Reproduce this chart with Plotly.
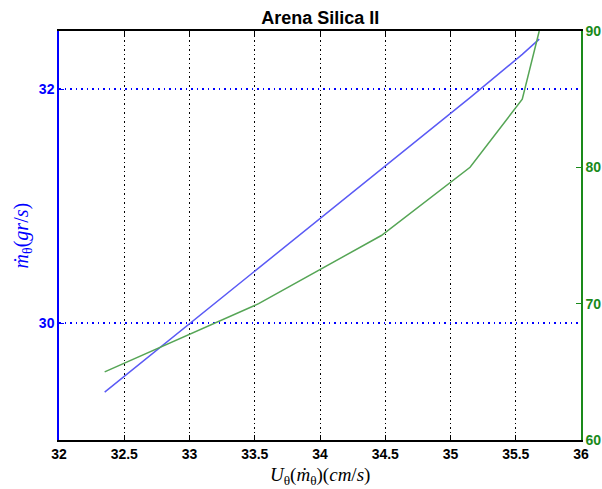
import plotly.graph_objects as go

# Data
x_vals = [32.35, 33.53, 34.47, 35.15, 35.55, 35.68]
mdot = [29.41, 30.47, 31.32, 31.93, 32.30, 32.43]      # left axis (blue)
second = [65.0, 70.0, 75.0, 80.0, 85.0, 90.0]           # right axis (green)

x_ticks = [32, 32.5, 33, 33.5, 34, 34.5, 35, 35.5, 36]
x_tick_text = ["32", "32.5", "33", "33.5", "34", "34.5", "35", "35.5", "36"]
y_ticks = [30, 32]
y2_ticks = [60, 70, 80, 90]

BLUE = "#0000ff"
GREEN = "#1a8a1a"
LINE_BLUE = "#5a5af5"
LINE_GREEN = "#55a555"
SANS = "Liberation Sans, Arial, sans-serif"
SERIF = "Liberation Serif, DejaVu Serif, serif"

fig = go.Figure()
fig.add_trace(go.Scatter(x=x_vals, y=mdot, mode="lines",
                         line=dict(color=LINE_BLUE, width=1.5), yaxis="y", showlegend=False))
fig.add_trace(go.Scatter(x=x_vals, y=second, mode="lines",
                         line=dict(color=LINE_GREEN, width=1.5), yaxis="y2", showlegend=False))

fig.update_layout(
    width=602, height=489,
    margin=dict(l=59, r=21, t=31, b=49, autoexpand=False),
    paper_bgcolor="white", plot_bgcolor="white",
    showlegend=False,
    xaxis=dict(
        range=[32, 36], tickvals=x_ticks, ticktext=x_tick_text,
        showline=True, linecolor="black", linewidth=1.5, mirror="ticks",
        ticks="inside", ticklen=5, tickcolor="black",
        showgrid=True, gridcolor="black", griddash="1.5px,3px", gridwidth=1.2,
        zeroline=False, automargin=False,
        tickfont=dict(family=SANS, size=14, color="black", weight="bold"),
    ),
    yaxis=dict(
        range=[29, 32.5], tickvals=y_ticks,
        showline=True, linecolor=BLUE, linewidth=1.5,
        ticks="inside", ticklen=5, tickcolor=BLUE,
        showgrid=True, gridcolor=BLUE, griddash="1.5px,4px", gridwidth=1.5,
        zeroline=False, automargin=False,
        tickfont=dict(family=SANS, size=14, color=BLUE, weight="bold"),
    ),
    yaxis2=dict(
        range=[60, 90], tickvals=y2_ticks, overlaying="y", side="right",
        showline=True, linecolor=GREEN, linewidth=1.5,
        ticks="inside", ticklen=5, tickcolor=GREEN,
        showgrid=False, zeroline=False, automargin=False,
        tickfont=dict(family=SANS, size=14, color=GREEN, weight="bold"),
    ),
    title=dict(text="<b>Arena Silica II</b>", x=0.532, xanchor="center",
               y=1 - 18 / 489, yanchor="middle",
               font=dict(family=SANS, size=18, color="black")),
    annotations=[
        dict(text="<i>U</i><sub>θ</sub>(<i>ṁ</i><sub>θ</sub>)(<i>cm</i>/<i>s</i>)",
             xref="paper", yref="paper", x=0.5, y=-(476 - 440) / 409,
             xanchor="center", yanchor="middle", showarrow=False,
             font=dict(family=SERIF, size=19, color="black")),
        dict(text="<i>ṁ</i><sub>θ</sub>(<i>gr</i>/<i>s</i>)",
             xref="paper", yref="paper", x=-(59 - 22) / 522, y=0.5,
             xanchor="center", yanchor="middle", textangle=-90, showarrow=False,
             font=dict(family=SERIF, size=20, color=BLUE)),
    ],
)

fig.write_html("out.html", config={"displayModeBar": False},
               post_script="document.body.style.margin='0';document.body.style.overflow='hidden';")
